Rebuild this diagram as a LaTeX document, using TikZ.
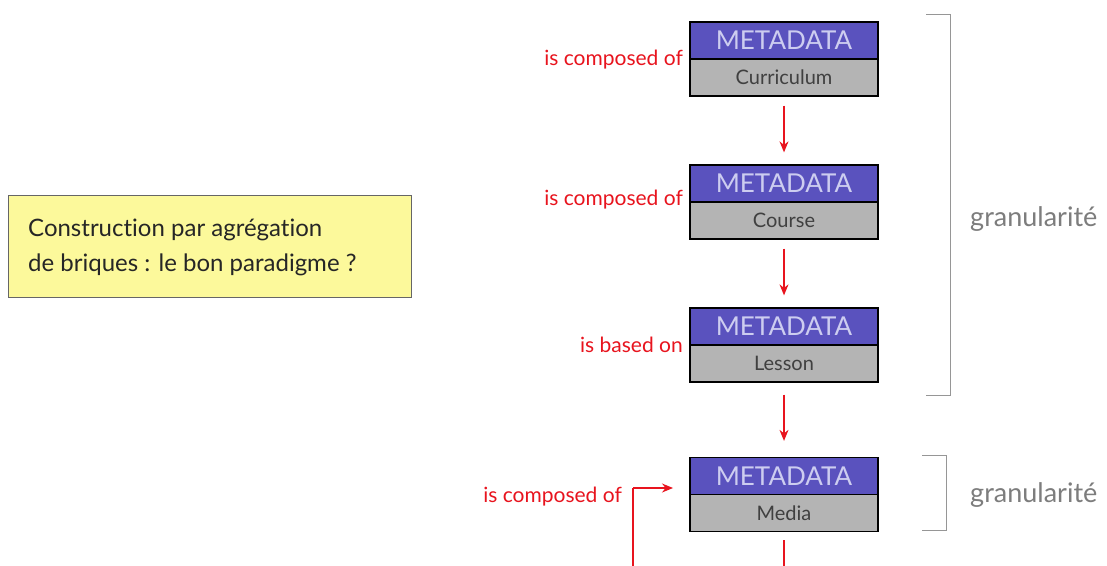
\documentclass[tikz,border=0pt]{standalone}
\usepackage{fontspec}
\setmainfont{Lato}[Ligatures={NoCommon}]
\usetikzlibrary{arrows.meta}
\definecolor{metablue}{RGB}{90,82,190}
\definecolor{metatxt}{RGB}{205,205,240}
\definecolor{boxgray}{RGB}{180,180,180}
\definecolor{darktxt}{RGB}{64,64,64}
\definecolor{relred}{RGB}{232,20,30}
\definecolor{noteyellow}{RGB}{252,249,155}
\definecolor{brgray}{RGB}{150,150,150}
\definecolor{grtxt}{RGB}{125,125,125}
\tikzset{
  metatop/.style={draw=black, line width=1.3pt, fill=metablue, text=metatxt,
    minimum width=188pt, minimum height=37pt, inner sep=0pt, font=\fontsize{26}{28}\selectfont},
  metabot/.style={draw=black, line width=1.3pt, fill=boxgray, text=darktxt,
    minimum width=188pt, minimum height=37pt, inner sep=0pt, font=\fontsize{20}{22}\selectfont},
  rel/.style={text=relred, anchor=east, inner sep=0pt, font=\fontsize{21}{24}\selectfont},
  relarrow/.style={draw=relred, line width=1.3pt, -{Stealth[length=11pt,width=9pt]}},
  bracket/.style={draw=brgray, line width=1pt},
  gran/.style={text=grtxt, anchor=west, inner sep=0pt, font=\fontsize{27}{30}\selectfont},
}
\begin{document}
\begin{tikzpicture}[x=1pt,y=-1pt]
\useasboundingbox (0,0) rectangle (1107,565);
\clip (0,0) rectangle (1107,565);
\fill[white] (0,0) rectangle (1107,565);

% note
\node[draw=black!60, line width=1pt, fill=noteyellow, minimum width=403pt, minimum height=102pt,
  inner sep=0pt] (note) at (209.5,246) {};
\node[anchor=west, align=left, inner sep=0pt, text=black!85, font=\fontsize{24}{35}\selectfont]
  (notetxt) at (28,247) {Construction par agrégation\\de briques : le bon paradigme ?};

% boxes
\node[metatop] (cur-t) at (784,40.5) {METADATA};
\node[metabot] (cur-b) at (784,77.5) {Curriculum};
\node[metatop] (cou-t) at (784,183.5) {METADATA};
\node[metabot] (cou-b) at (784,220.5) {Course};
\node[metatop] (les-t) at (784,326.5) {METADATA};
\node[metabot] (les-b) at (784,363.5) {Lesson};
\node[metatop] (med-t) at (784,476) {METADATA};
\node[metabot] (med-b) at (784,513) {Media};

% labels
\node[rel] (l1) at (683,60) {is composed of};
\node[rel] (l2) at (683,200) {is composed of};
\node[rel] (l3) at (683,345) {is based on};
\node[rel] (l4) at (622,497) {is composed of};

% arrows
\draw[relarrow, shorten <=9pt, shorten >=12pt] (cur-b.south) -- (cou-t.north);
\draw[relarrow, shorten <=9pt, shorten >=12pt] (cou-b.south) -- (les-t.north);
\draw[relarrow, shorten <=12pt, shorten >=16pt] (les-b.south) -- (med-t.north);

% feedback loop
\coordinate (lb) at (784,600);
\coordinate (ll) at (633,600);
\coordinate (lu) at (633,488);
\coordinate (lt) at (673,488);
\draw[draw=relred, line width=1.3pt, shorten <=8pt] (med-b.south) -- (lb) -- (ll) -- (lu);
\draw[relarrow] (lu) -- (lt);

% brackets
\coordinate (b1a) at (926,14);
\coordinate (b1b) at (950,14);
\coordinate (b1c) at (950,395);
\coordinate (b1d) at (926,395);
\draw[bracket] (b1a) -- (b1b) -- (b1c) -- (b1d);
\node[gran] (g1) at (970,219) {granularité};
\coordinate (b2a) at (922,455);
\coordinate (b2b) at (946,455);
\coordinate (b2c) at (946,530);
\coordinate (b2d) at (922,530);
\draw[bracket] (b2a) -- (b2b) -- (b2c) -- (b2d);
\node[gran] (g2) at (970,495) {granularité};
\end{tikzpicture}
\end{document}
